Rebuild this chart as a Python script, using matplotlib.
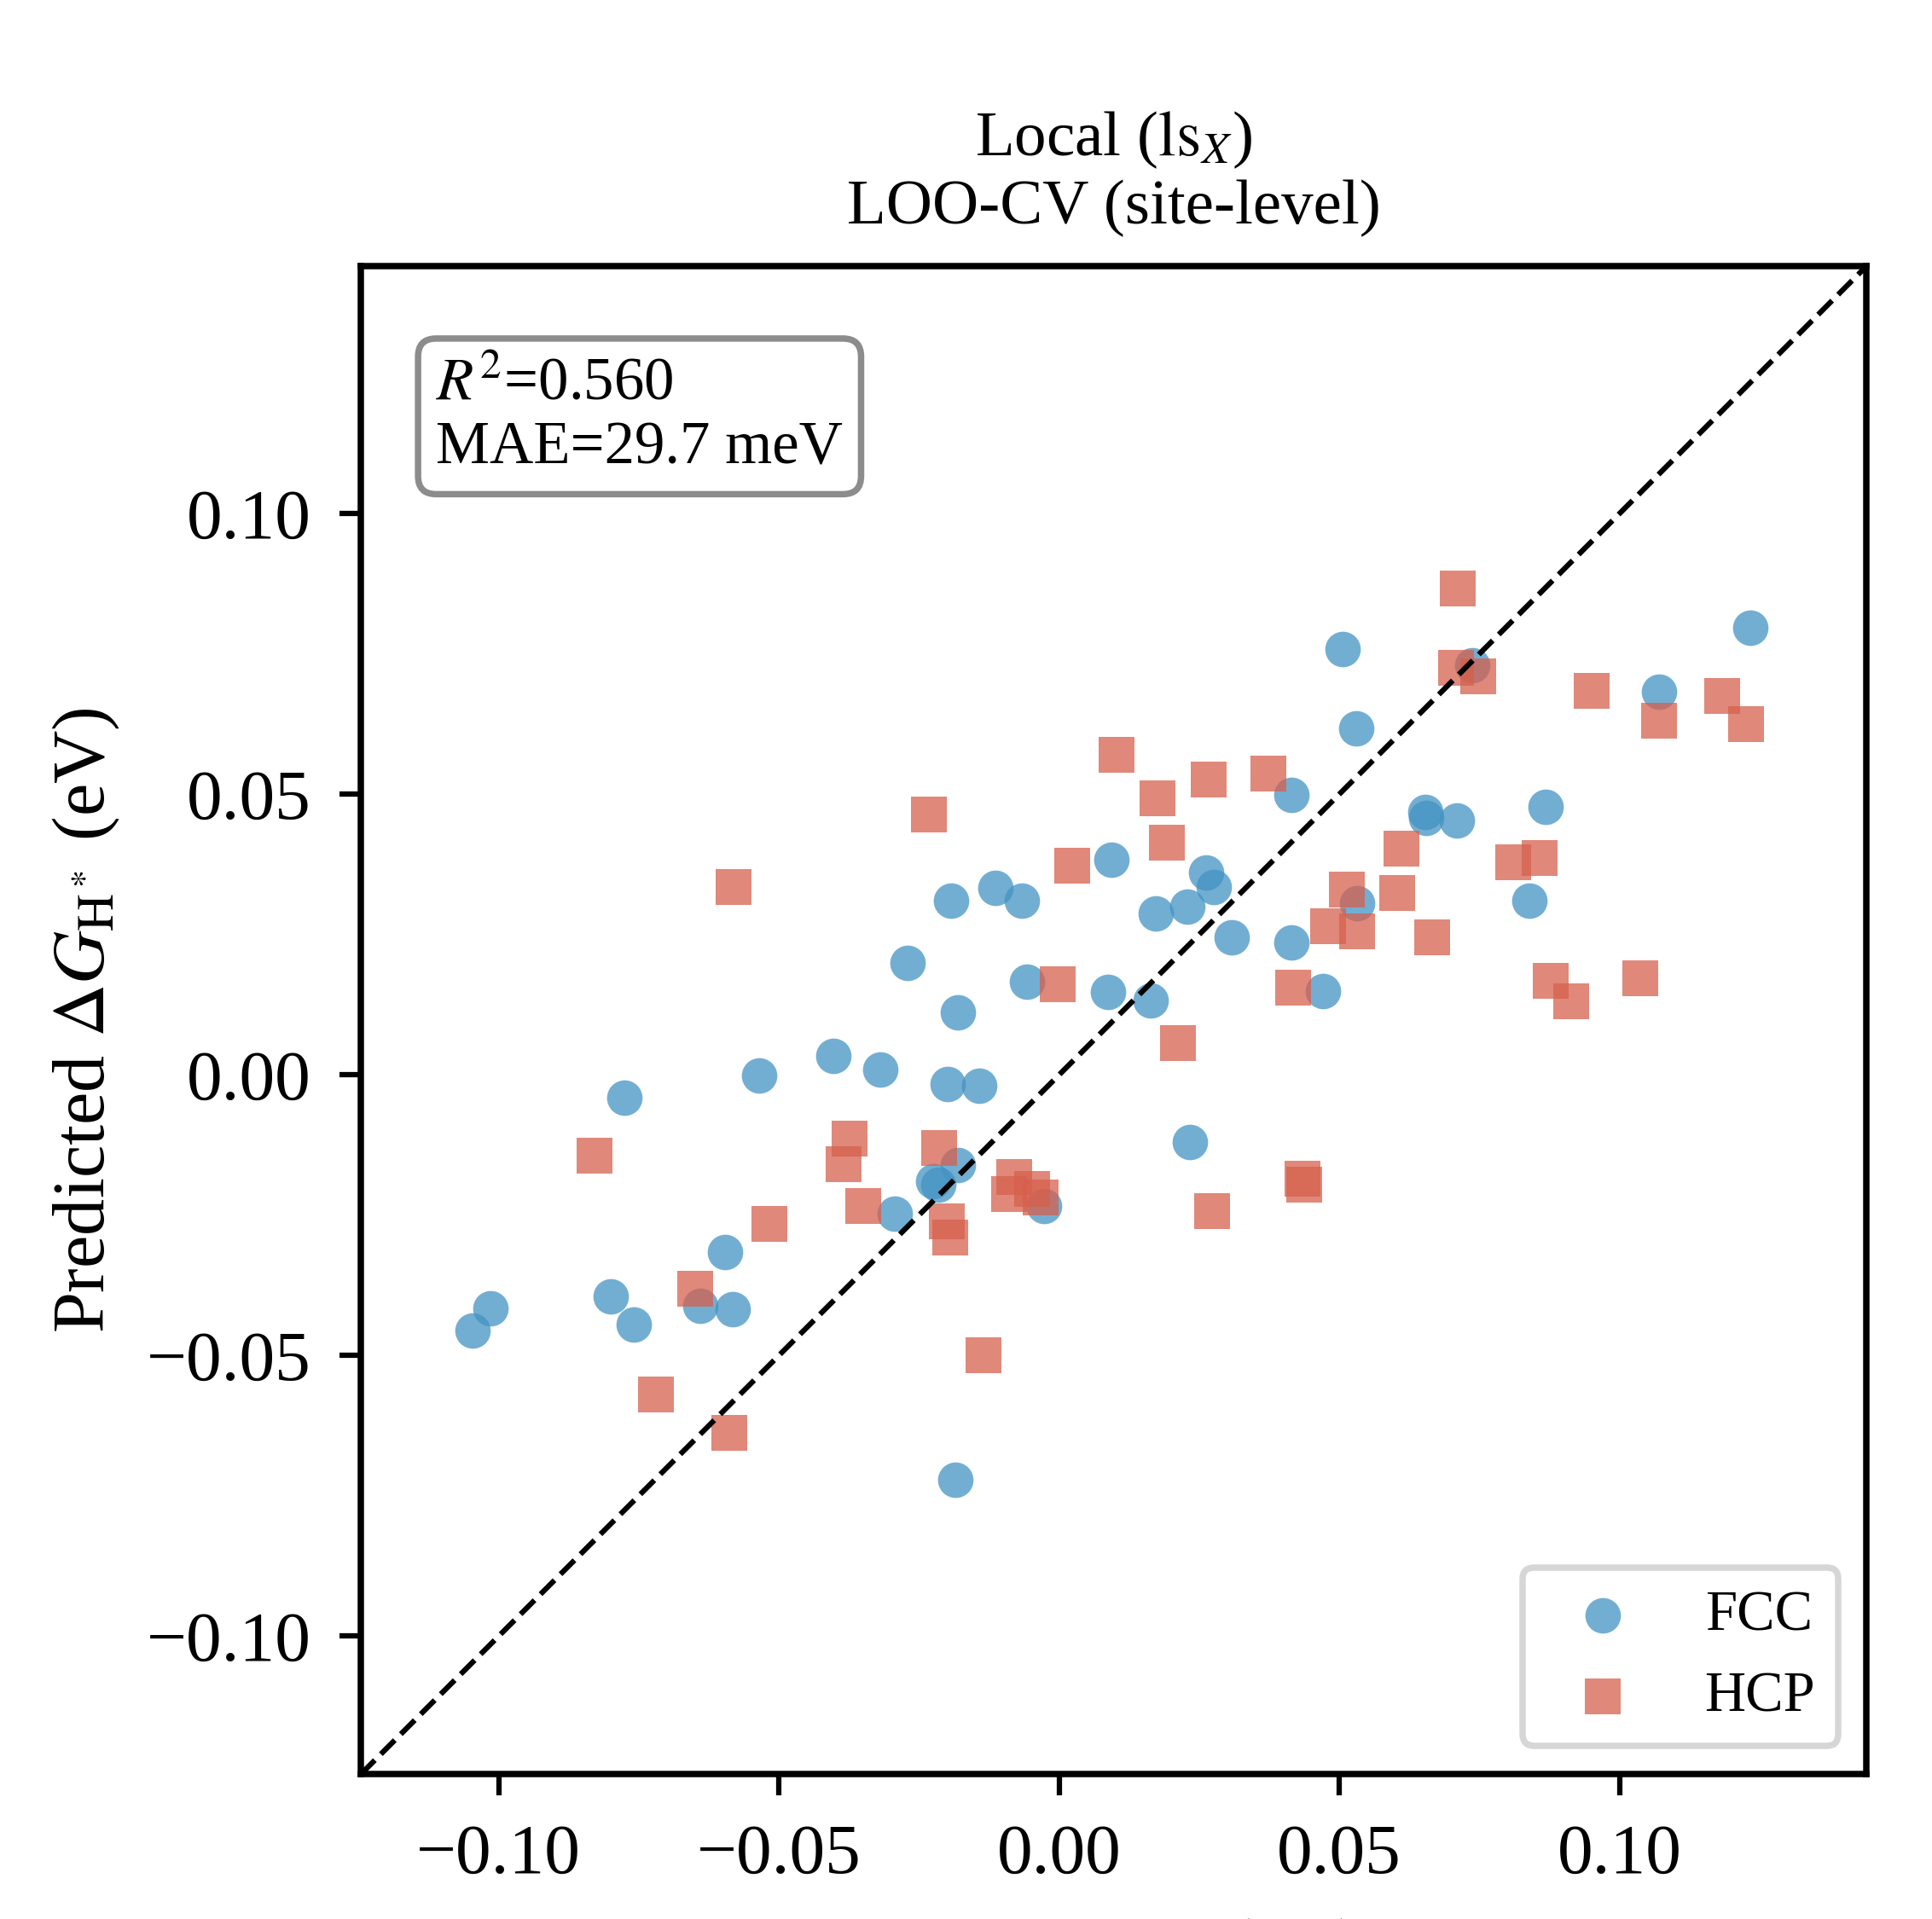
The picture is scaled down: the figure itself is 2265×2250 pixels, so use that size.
import numpy as np
import matplotlib
matplotlib.use("Agg")
import matplotlib.pyplot as plt

plt.rcParams['font.family'] = ['Liberation Serif', 'DejaVu Serif']
plt.rcParams['mathtext.fontset'] = 'stix'

# ---------------- data ----------------
fcc_true = [-0.1046, -0.1015, -0.0776, -0.0800, -0.0759, -0.0535, -0.0596, -0.0640,
            -0.0583, -0.0403, -0.0319, -0.0271, -0.0293, -0.0225, -0.0215, -0.0181,
            -0.0192, -0.0181, -0.0199, -0.0142, -0.0185, -0.0113, -0.0067, -0.0058,
            -0.0027, 0.0087, 0.0093, 0.0164, 0.0172, 0.0229, 0.0234, 0.0262,
            0.0276, 0.0308, 0.0414, 0.0414, 0.0471, 0.0506, 0.0530, 0.0532,
            0.0653, 0.0655, 0.0710, 0.0737, 0.0840, 0.0868, 0.1070, 0.1233]
fcc_pred = [-0.0456, -0.0416, -0.0041, -0.0394, -0.0445, -0.0001, -0.0315, -0.0412,
            -0.0418, 0.0034, 0.0010, 0.0199, -0.0247, -0.0190, -0.0195, -0.0160,
            0.0311, 0.0111, -0.0016, -0.0019, -0.0721, 0.0333, 0.0311, 0.0166,
            -0.0233, 0.0148, 0.0383, 0.0133, 0.0287, 0.0300, -0.0120, 0.0361,
            0.0335, 0.0245, 0.0499, 0.0236, 0.0150, 0.0759, 0.0618, 0.0306,
            0.0469, 0.0458, 0.0453, 0.0730, 0.0311, 0.0478, 0.0682, 0.0796]

hcp_true = [-0.0829, -0.0719, -0.0649, -0.0589, -0.0581, -0.0517, -0.0385, -0.0374,
            -0.0350, -0.0232, -0.0214, -0.0201, -0.0194, -0.0135, -0.0080, -0.0089,
            -0.0048, -0.0033, -0.0003, 0.0023, 0.0102, 0.0175, 0.0192, 0.0212,
            0.0267, 0.0273, 0.0374, 0.0418, 0.0434, 0.0438, 0.0480, 0.0513,
            0.0532, 0.0603, 0.0611, 0.0666, 0.0712, 0.0708, 0.0748, 0.0811,
            0.0857, 0.0877, 0.0914, 0.0950, 0.1037, 0.1070, 0.1184, 0.1226]
hcp_pred = [-0.0144, -0.0570, -0.0381, -0.0638, 0.0335, -0.0265, -0.0159, -0.0113,
            -0.0234, 0.0464, -0.0131, -0.0261, -0.0290, -0.0499, -0.0182, -0.0212,
            -0.0203, -0.0218, 0.0161, 0.0372, 0.0570, 0.0493, 0.0414, 0.0056,
            0.0526, -0.0243, 0.0537, 0.0155, -0.0185, -0.0195, 0.0265, 0.0330,
            0.0256, 0.0324, 0.0403, 0.0245, 0.0866, 0.0726, 0.0710, 0.0379,
            0.0387, 0.0168, 0.0131, 0.0684, 0.0172, 0.0631, 0.0675, 0.0625]

groups = ["FCC", "HCP"]
colors = ["#4393c3", "#d6604d"]
markers = ["o", "s"]
ticks = [-0.10, -0.05, 0.00, 0.05, 0.10]
lims = (-0.1246, 0.1441)
r2_text = r"$R^2$=0.560" + "\n" + "MAE=29.7 meV"
title = "Local ($\\mathrm{ls}_X$)\nLOO-CV (site-level)"
xlabel = r"DFT $\Delta G_{\mathrm{H}^*}$ (eV)"
ylabel = r"Predicted $\Delta G_{\mathrm{H}^*}$ (eV)"

# ---------------- plot ----------------
fig = plt.figure(figsize=(2265 / 300, 2250 / 300), dpi=300)
ax = fig.add_axes([0.1868, 0.0755, 0.7793, 0.7858])

series = [(fcc_true, fcc_pred), (hcp_true, hcp_pred)]
for (xt, yp), g, c, m in zip(series, groups, colors, markers):
    ax.scatter(xt, yp, s=100, c=c, marker=m, alpha=0.75, linewidths=0, label=g)

ax.plot(lims, lims, "k--", lw=1.5, zorder=3)
ax.set_xlim(lims)
ax.set_ylim(lims)
ax.set_xticks(ticks)
ax.set_yticks(ticks)
ax.tick_params(labelsize=20, length=6, width=1.5, pad=8)
for sp in ax.spines.values():
    sp.set_linewidth(1.8)

ax.set_xlabel(xlabel, fontsize=21, labelpad=8)
ax.set_ylabel(ylabel, fontsize=20.7, labelpad=7)
ax.set_title(title, fontsize=18, pad=12)

ax.text(0.05, 0.94, r2_text, transform=ax.transAxes, fontsize=17,
        va="top", ha="left",
        bbox=dict(boxstyle="round,pad=0.3", fc="white", ec="0.55", lw=1.8))

leg = ax.legend(loc="lower right", fontsize=16)
leg.get_frame().set_linewidth(1.8)

fig.savefig("out.png", dpi=300)
